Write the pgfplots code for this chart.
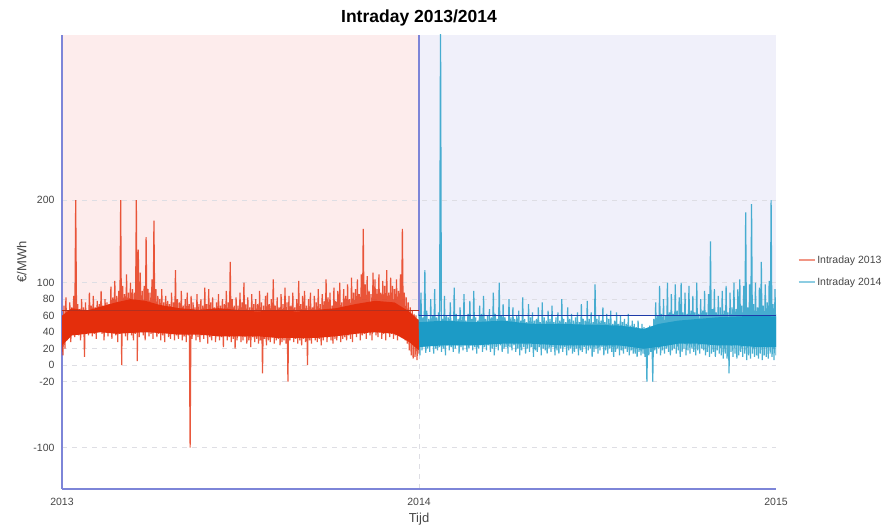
\documentclass[border=0pt]{standalone}
\usepackage{fontspec}
\setmainfont{Liberation Sans}
\usepackage{pgfplots}
\usepackage{pgfplotstable}
\pgfplotsset{compat=1.18}

\definecolor{axisblue}{RGB}{125,133,216}
\definecolor{bgpink}{RGB}{253,236,236}
\definecolor{bglav}{RGB}{240,240,250}
\definecolor{red13}{RGB}{228,46,12}
\definecolor{blue14}{RGB}{28,155,198}
\definecolor{mean13}{RGB}{178,48,32}
\definecolor{mean14}{RGB}{30,58,168}
\definecolor{gridgray}{RGB}{222,222,228}
\definecolor{labelgray}{RGB}{70,70,70}

% daily high/low zigzag, one value per day (even = high, odd = low)
\pgfplotstableread[row sep=\\]{
v\\
45\\ 12\\ 72\\ 20\\ 82\\ 30\\ 66\\ 35\\ 76\\ 28\\
70\\ 38\\ 84\\ 34\\ 200\\ 40\\ 74\\ 36\\ 68\\ 30\\
80\\ 42\\ 70\\ 10\\ 76\\ 40\\ 66\\ 36\\ 88\\ 44\\
72\\ 35\\ 84\\ 38\\ 70\\ 32\\ 78\\ 40\\ 74\\ 45\\
90\\ 38\\ 72\\ 30\\ 80\\ 42\\ 76\\ 35\\ 74\\ 40\\
95\\ 32\\ 82\\ 40\\ 102\\ 36\\ 84\\ 28\\ 90\\ 38\\
200\\ 0\\ 96\\ 42\\ 86\\ 35\\ 110\\ 30\\ 88\\ 40\\
100\\ 36\\ 92\\ 30\\ 88\\ 38\\ 200\\ 5\\ 140\\ 34\\
112\\ 40\\ 90\\ 36\\ 96\\ 30\\ 155\\ 42\\ 92\\ 35\\
88\\ 38\\ 104\\ 32\\ 175\\ 40\\ 92\\ 34\\ 84\\ 38\\
80\\ 30\\ 92\\ 36\\ 76\\ 28\\ 84\\ 40\\ 78\\ 34\\
74\\ 32\\ 88\\ 38\\ 76\\ 30\\ 115\\ 36\\ 80\\ 32\\
76\\ 38\\ 90\\ 30\\ 72\\ 35\\ 80\\ 28\\ 88\\ 36\\
74\\ -100\\ 84\\ 32\\ 76\\ 38\\ 70\\ 30\\ 86\\ 34\\
74\\ 28\\ 80\\ 36\\ 72\\ 32\\ 94\\ 38\\ 74\\ 26\\
92\\ 34\\ 76\\ 30\\ 82\\ 36\\ 70\\ 28\\ 76\\ 35\\
86\\ 30\\ 72\\ 34\\ 80\\ 22\\ 74\\ 36\\ 90\\ 30\\
76\\ 34\\ 125\\ 28\\ 80\\ 32\\ 72\\ 20\\ 82\\ 30\\
72\\ 36\\ 88\\ 28\\ 76\\ 30\\ 100\\ 34\\ 74\\ 26\\
82\\ 30\\ 70\\ 22\\ 86\\ 34\\ 74\\ 28\\ 80\\ 32\\
74\\ 26\\ 90\\ 30\\ 76\\ -10\\ 72\\ 32\\ 84\\ 24\\
88\\ 30\\ 74\\ 28\\ 80\\ 34\\ 104\\ 26\\ 72\\ 30\\
82\\ 32\\ 70\\ 24\\ 86\\ 28\\ 74\\ 30\\ 94\\ 26\\
76\\ -20\\ 84\\ 30\\ 72\\ 34\\ 88\\ 28\\ 70\\ 32\\
80\\ 26\\ 102\\ 30\\ 74\\ 24\\ 84\\ 32\\ 90\\ 28\\
72\\ 0\\ 80\\ 30\\ 88\\ 26\\ 70\\ 34\\ 84\\ 30\\
76\\ 28\\ 92\\ 32\\ 74\\ 24\\ 86\\ 30\\ 78\\ 36\\
104\\ 28\\ 82\\ 34\\ 88\\ 30\\ 72\\ 26\\ 94\\ 32\\
78\\ 30\\ 90\\ 36\\ 100\\ 28\\ 76\\ 32\\ 92\\ 34\\
84\\ 30\\ 98\\ 36\\ 80\\ 32\\ 106\\ 28\\ 88\\ 38\\
92\\ 34\\ 104\\ 40\\ 86\\ 30\\ 110\\ 36\\ 165\\ 38\\
98\\ 32\\ 108\\ 40\\ 90\\ 36\\ 86\\ 30\\ 112\\ 42\\
104\\ 36\\ 92\\ 34\\ 110\\ 40\\ 88\\ 32\\ 102\\ 38\\
96\\ 30\\ 115\\ 40\\ 88\\ 34\\ 106\\ 38\\ 96\\ 32\\
92\\ 36\\ 104\\ 30\\ 90\\ 40\\ 110\\ 34\\ 165\\ 36\\
88\\ 30\\ 82\\ 26\\ 76\\ 18\\ 70\\ 12\\ 66\\ 8\\
62\\ 10\\ 60\\ 6\\ 56\\ 14\\
}\intraA

\pgfplotstableread[row sep=\\]{
v\\
62\\ 12\\ 88\\ 18\\ 58\\ 22\\ 115\\ 15\\ 66\\ 20\\
56\\ 16\\ 80\\ 24\\ 60\\ 14\\ 92\\ 20\\ 58\\ 18\\
64\\ 22\\ 420\\ 16\\ 56\\ 20\\ 84\\ 12\\ 60\\ 24\\
58\\ 18\\ 76\\ 22\\ 54\\ 16\\ 94\\ 20\\ 62\\ 24\\
56\\ 14\\ 70\\ 22\\ 60\\ 18\\ 86\\ 24\\ 54\\ 16\\
62\\ 20\\ 78\\ 24\\ 56\\ 18\\ 90\\ 22\\ 58\\ 14\\
54\\ 20\\ 72\\ 24\\ 62\\ 16\\ 84\\ 22\\ 56\\ 18\\
60\\ 24\\ 68\\ 16\\ 58\\ 20\\ 88\\ 12\\ 62\\ 22\\
56\\ 18\\ 100\\ 24\\ 60\\ 16\\ 74\\ 20\\ 58\\ 22\\
54\\ 14\\ 80\\ 22\\ 58\\ 18\\ 70\\ 24\\ 56\\ 16\\
60\\ 20\\ 66\\ 12\\ 54\\ 18\\ 82\\ 22\\ 56\\ 14\\
52\\ 20\\ 74\\ 16\\ 58\\ 22\\ 64\\ 10\\ 54\\ 18\\
56\\ 16\\ 70\\ 22\\ 52\\ 12\\ 76\\ 20\\ 58\\ 18\\
54\\ 14\\ 66\\ 20\\ 56\\ 16\\ 72\\ 22\\ 52\\ 12\\
58\\ 18\\ 64\\ 14\\ 54\\ 20\\ 80\\ 16\\ 56\\ 22\\
52\\ 12\\ 70\\ 18\\ 56\\ 20\\ 62\\ 14\\ 54\\ 16\\
58\\ 20\\ 64\\ 12\\ 52\\ 18\\ 74\\ 16\\ 56\\ 22\\
54\\ 14\\ 78\\ 18\\ 56\\ 20\\ 64\\ 10\\ 52\\ 16\\
98\\ 20\\ 56\\ 14\\ 60\\ 18\\ 54\\ 22\\ 70\\ 12\\
52\\ 18\\ 62\\ 14\\ 56\\ 20\\ 66\\ 16\\ 50\\ 10\\
54\\ 16\\ 64\\ 20\\ 50\\ 12\\ 60\\ 18\\ 52\\ 14\\
56\\ 20\\ 50\\ 16\\ 62\\ 12\\ 48\\ 18\\ 54\\ 14\\
50\\ 14\\ 46\\ 10\\ 54\\ 16\\ 44\\ 12\\ 50\\ 14\\
46\\ 10\\ 42\\ -20\\ 44\\ 12\\ 48\\ 16\\ 44\\ -20\\
56\\ 18\\ 76\\ 14\\ 60\\ 20\\ 96\\ 12\\ 62\\ 18\\
80\\ 14\\ 60\\ 20\\ 100\\ 16\\ 64\\ 12\\ 86\\ 18\\
62\\ 20\\ 98\\ 14\\ 66\\ 18\\ 82\\ 10\\ 100\\ 16\\
64\\ 20\\ 88\\ 12\\ 62\\ 18\\ 96\\ 14\\ 66\\ 20\\
84\\ 16\\ 64\\ 12\\ 100\\ 18\\ 62\\ 14\\ 80\\ 20\\
66\\ 18\\ 90\\ 12\\ 64\\ 16\\ 86\\ 10\\ 150\\ 14\\
68\\ 16\\ 92\\ 10\\ 64\\ 18\\ 84\\ 14\\ 70\\ 12\\
90\\ 8\\ 66\\ 14\\ 96\\ 8\\ 64\\ -10\\ 88\\ 16\\
70\\ 10\\ 100\\ 14\\ 68\\ 8\\ 92\\ 12\\ 104\\ 16\\
72\\ 10\\ 96\\ 14\\ 185\\ 6\\ 70\\ 12\\ 98\\ 8\\
195\\ 14\\ 74\\ 10\\ 100\\ 12\\ 70\\ 8\\ 94\\ 14\\
125\\ 6\\ 72\\ 12\\ 98\\ 10\\ 76\\ 8\\ 102\\ 14\\
200\\ 10\\ 74\\ 6\\ 92\\ 12\\
}\intraB

\begin{document}
\begin{tikzpicture}
\begin{axis}[
    set layers,
    scale only axis,
    width=714pt, height=454pt,
    xmin=0, xmax=730, ymin=-150, ymax=400,
    xtick={0,365,730}, xticklabels={2013,2014,2015},
    ytick={-100,-20,0,20,40,60,80,100,200},
    axis x line*=bottom, axis y line*=left,
    axis line style={-, draw=axisblue, line width=1.3pt},
    major tick length=0pt,
    ymajorgrids=true,
    grid style={gridgray, line width=0.7pt, dash pattern=on 5pt off 5pt},
    tick label style={font=\fontsize{10.5}{12}\selectfont, text=labelgray},
    xticklabel style={yshift=-6pt},
    yticklabel style={xshift=-4pt},
    /pgf/number format/assume math mode=true,
    xlabel={Tijd}, ylabel={€/MWh},
    label style={font=\fontsize{13}{15}\selectfont, text=labelgray},
    title={\textbf{Intraday 2013/2014}},
    title style={font=\fontsize{17.5}{20}\selectfont, at={(0.5,1)}, anchor=south, yshift=-1pt},
    legend style={at={(1.026,0.48)}, anchor=west, draw=none, fill=none,
        font=\fontsize{10.5}{12}\selectfont, text=labelgray, row sep=9pt},
    legend cell align=left,
    legend image code/.code={\draw[#1, line width=1.5pt, opacity=0.5] (0pt,0pt) -- (16pt,0pt);},
]
% shaded year bands (from the yearly mean up to the top)
\addplot[on layer=axis background, fill=bgpink, draw=none, forget plot]
    coordinates {(0,66) (365,66) (365,400) (0,400)};
\addplot[on layer=axis background, fill=bglav, draw=none, forget plot]
    coordinates {(365,60) (730,60) (730,400) (365,400)};
% vertical grid line at 2014 only
\addplot[on layer=axis grid, gridgray, line width=0.7pt, dash pattern=on 5pt off 5pt, forget plot]
    coordinates {(365,-150) (365,400)};

\addplot[axisblue, line width=1.3pt, forget plot] coordinates {(365,60) (365,400)};

% dense core of each year
\addplot[fill=red13, draw=none, forget plot] coordinates {
    (0,60) (10,69) (25,66) (40,71) (55,76) (70,80) (85,78) (100,73) (120,69)
    (140,67) (160,69) (180,67) (200,65) (220,67) (240,65) (260,67) (280,69)
    (300,74) (320,78) (340,76) (355,65) (365,54)
    (365,18) (355,28) (340,38) (320,40) (300,38) (280,35) (260,33) (240,33)
    (220,33) (200,35) (180,35) (160,35) (140,37) (120,37) (100,39) (85,40)
    (70,39) (55,38) (40,40) (25,38) (10,36) (0,24)};
\addplot[fill=blue14, draw=none, forget plot] coordinates {
    (365,52) (390,54) (420,52) (450,54) (480,50) (510,50) (540,49) (570,48)
    (595,44) (610,50) (630,54) (650,56) (670,58) (690,59) (710,60) (730,59)
    (730,22) (710,22) (690,24) (670,24) (650,26) (630,26) (610,22) (595,20)
    (570,24) (540,24) (510,24) (480,26) (450,26) (420,24) (390,24) (365,22)};

\addplot[red13, line width=1.2pt, opacity=0.8]
    table[x expr=\coordindex, y=v] {\intraA};
\addlegendentry{Intraday 2013}
\addplot[blue14, line width=1.2pt, opacity=0.8]
    table[x expr=\coordindex+365, y=v] {\intraB};
\addlegendentry{Intraday 2014}

% yearly mean lines
\addplot[mean13, line width=1.3pt, forget plot] coordinates {(0,66) (365,66)};
\addplot[mean14, line width=1.5pt, forget plot] coordinates {(365,60) (730,60)};
\end{axis}
\pgfresetboundingbox
\path[use as bounding box] (current axis.south west) ++(-62pt,-36pt)
    rectangle ([shift={(116pt,35pt)}]current axis.north east);
\end{tikzpicture}
\end{document}
